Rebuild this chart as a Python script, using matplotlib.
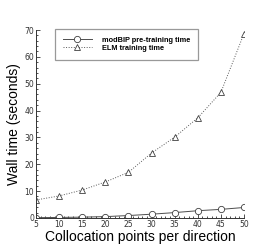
import numpy as np
import matplotlib.pyplot as plt
from matplotlib.ticker import MultipleLocator

# data
points = [5, 10, 15, 20, 25, 30, 35, 40, 45, 50]
modbip_time = [0.1, 0.2, 0.3, 0.5, 0.9, 1.4, 2.0, 2.7, 3.2, 3.9]
elm_time = [6.7, 8.2, 10.4, 13.4, 17.0, 24.2, 30.1, 37.3, 46.8, 68.7]

fig = plt.figure(figsize=(2.77, 2.46), dpi=100)
ax = fig.add_axes([0.130, 0.114, 0.751, 0.764])

ax.plot(points, modbip_time, color='0.3', lw=0.7, marker='o', ms=4.5,
        mfc='white', mec='0.25', mew=0.6, label='modBIP pre-training time')
ax.plot(points, elm_time, color='0.35', lw=0.7, ls=':', marker='^', ms=4.8,
        mfc='white', mec='0.25', mew=0.6, label='ELM training time')

ax.set_xlim(5, 50)
ax.set_ylim(0, 70)
ax.xaxis.set_major_locator(MultipleLocator(5))
ax.xaxis.set_minor_locator(MultipleLocator(1))
ax.yaxis.set_major_locator(MultipleLocator(10))
ax.yaxis.set_minor_locator(MultipleLocator(2))
ax.tick_params(which='both', direction='in', labelsize=5.5, colors='0.2', width=0.6)
ax.tick_params(which='major', length=3, pad=1.5)
ax.tick_params(which='minor', length=1.5)
ax.spines['top'].set_visible(False)
ax.spines['right'].set_visible(False)
for s in ['left', 'bottom']:
    ax.spines[s].set_linewidth(0.7)
    ax.spines[s].set_color('0.2')

ax.set_xlabel('Collocation points per direction', fontsize=10, family='Liberation Sans', labelpad=0.5)
ax.set_ylabel('Wall time (seconds)', fontsize=10, family='Liberation Sans', labelpad=2)

leg = ax.legend(loc='upper left', bbox_to_anchor=(0.09, 1.008),
                prop={'family': 'Liberation Sans', 'weight': 'bold', 'size': 5.3},
                fancybox=False, edgecolor='0.6', handlelength=3.9, borderpad=1.1,
                labelspacing=0.1, handletextpad=1.4, borderaxespad=0, framealpha=1)
leg.get_frame().set_linewidth(0.9)

fig.savefig('out.png', dpi=100)
